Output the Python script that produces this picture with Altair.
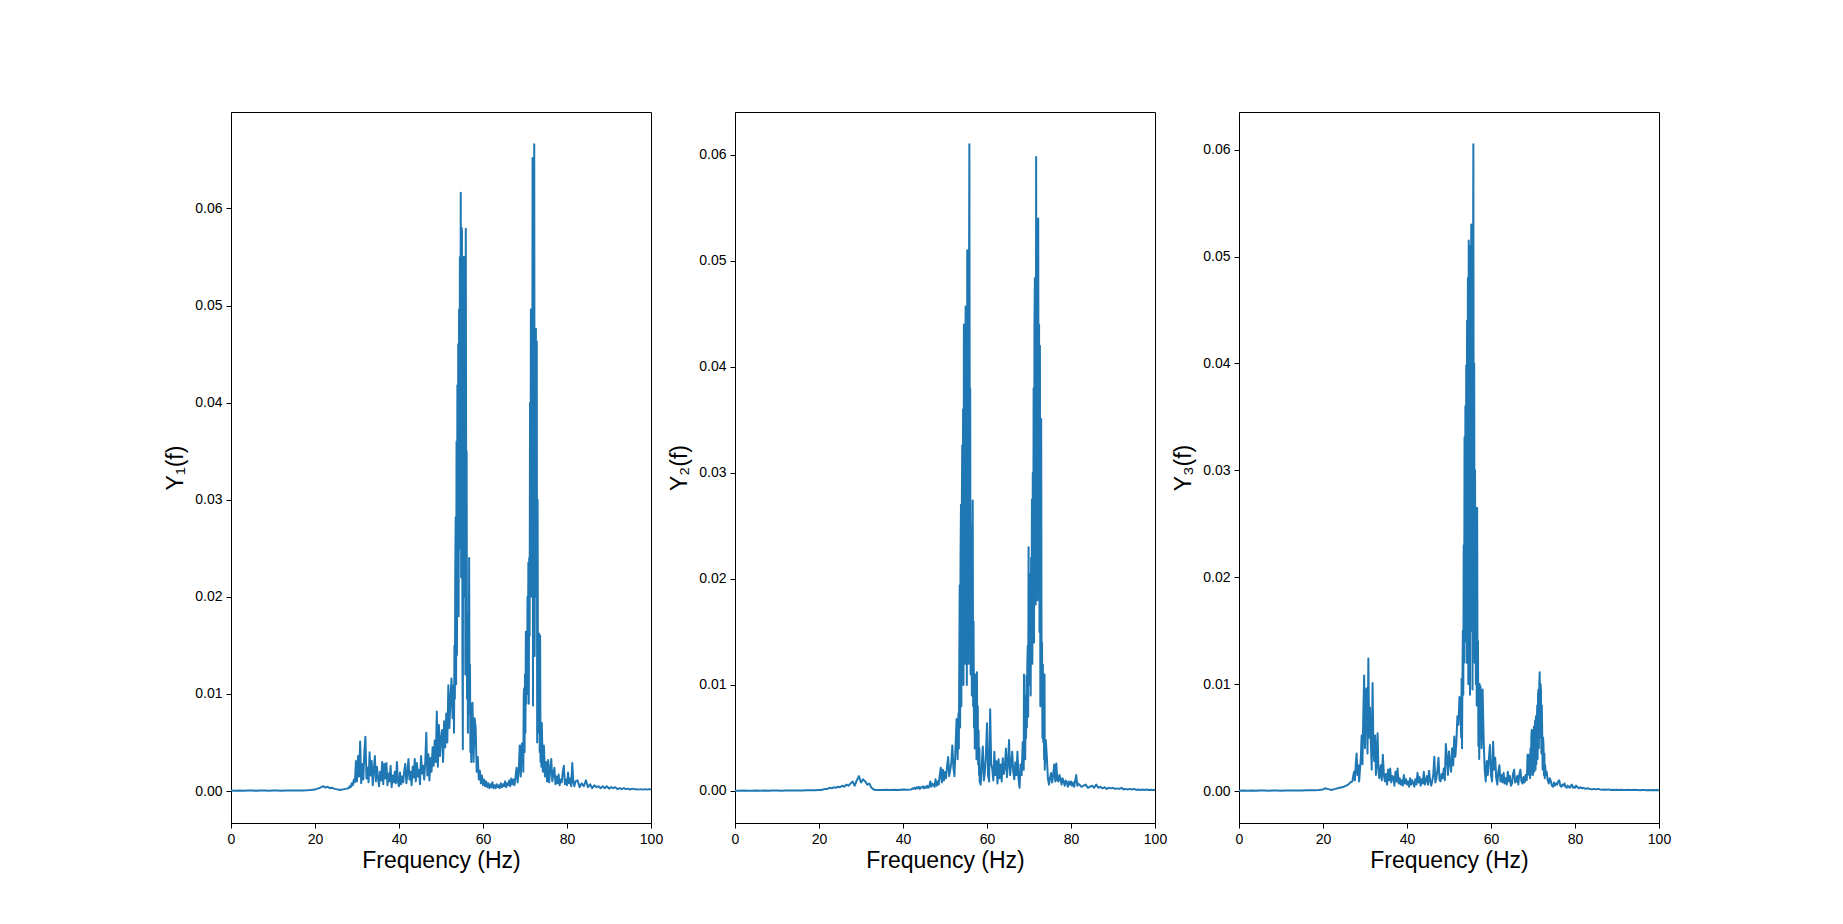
import altair as alt
import pandas as pd

# ---------------- data (values in units of 1e-3) ----------------
# Each panel is stored as segments: start frequency (Hz), grid step (Hz), values.

# Panel 1  -- Y1(f)
y1_a = [0.05, 0.04, 0.05, 0.04, 0.05, 0.05, 0.04, 0.05, 0.05, 0.04,
        0.05, 0.05, 0.04, 0.05, 0.06, 0.05, 0.06, 0.07, 0.08, 0.10]
y1_b = [0.15, 0.25, 0.30, 0.40, 0.50, 0.35, 0.45, 0.30, 0.35, 0.25,
        0.20, 0.15, 0.12, 0.15, 0.20, 0.25]
y1_c = [0.3, 0.5, 0.4, 0.8,  0.6, 1.2, 0.9, 3.1,  1.0, 3.6, 1.5, 5.1,
        0.8, 2.8, 1.2, 4.0,  5.6, 1.3, 2.4, 0.9,  4.0, 1.6, 3.1, 0.6,
        2.2, 3.6, 1.0, 2.5,  1.4, 0.5, 2.0, 1.1,  3.0, 0.7, 2.8, 1.3,
        2.9, 0.6, 1.8, 1.0,  2.6, 0.4, 1.6, 0.9,  2.0, 0.8, 3.0, 1.0,
        0.5, 1.9, 0.7, 1.5,  0.9, 2.1, 2.8, 0.8,  1.8, 3.3, 1.2, 2.0,
        0.6, 2.5, 1.4, 3.3,  1.0, 2.9, 1.5, 2.2,  0.7, 3.6, 1.8, 2.6,
        1.2, 3.0, 6.0, 1.6,  3.8, 1.1, 3.4, 2.0,  4.5, 2.6, 5.2, 3.0,
        8.2, 2.5, 6.8, 3.6,  5.4, 6.3, 3.0, 7.2,  4.5, 8.0, 5.0, 10.9,
        6.5, 9.5, 11.6, 7.5]
y1_d = [10.9, 6.0, 15.0, 9.5, 23.0, 28.2, 11.0, 36.0, 14.0, 41.8,
        20.0, 46.0, 18.0, 49.6, 25.0, 55.0, 30.0, 61.6, 22.0, 58.0,
        57.6, 14.0, 4.3, 55.0, 28.0, 55.0, 20.0, 54.0, 12.0, 57.9,
        30.0, 35.0, 9.5, 18.2, 6.0, 16.0, 9.0, 24.0, 8.0, 13.0,
        4.0, 9.0, 3.0, 8.5, 4.0]
y1_e = [9.1, 3.0, 7.5, 6.5,  2.0, 3.5, 1.2, 2.1,  0.8, 1.6, 0.6, 1.2,
        0.5, 1.0, 0.4, 0.8,  0.3, 0.7, 0.4, 0.9,  0.3, 0.6, 0.3, 0.7,
        0.4, 0.6, 0.3, 0.8,  0.4, 0.7, 0.5, 1.0,  0.4, 0.8, 0.6, 1.1,
        0.5, 1.3, 0.7, 1.2,  0.6, 1.5, 2.4, 0.9,  2.0, 4.7, 1.5, 4.9]
y1_f = [4.9, 2.0, 9.9, 10.6, 4.0, 12.0, 6.0, 16.4, 9.0, 16.0,
        10.0, 20.0, 12.0, 23.5, 9.0, 24.0, 16.0, 40.0, 20.0, 49.6,
        30.0, 49.0, 20.0, 65.2, 8.8, 65.0, 30.0, 66.6, 13.9, 47.0,
        25.0, 47.6, 20.0, 46.3, 5.0, 30.0, 8.0, 14.0, 6.0, 16.2,
        4.0, 16.0, 3.0, 7.0, 2.5]
y1_g = [7.0, 2.0, 4.7, 1.5,  3.0, 1.0, 3.2, 0.9,  2.2, 3.3, 1.0, 1.8,
        2.4, 0.7, 1.5, 0.8,  1.7, 0.6, 1.2, 0.9,  2.0, 2.6, 0.7, 1.2,
        0.6, 1.9, 0.8, 1.3,  0.5, 2.9, 0.9, 0.5]
y1_h = [1.0, 1.1, 0.4, 0.8, 0.5, 1.1, 0.4, 0.7, 0.3, 0.6,
        0.4, 0.5, 0.3, 0.5, 0.3, 0.5, 0.25, 0.4, 0.3, 0.4,
        0.2, 0.3, 0.2, 0.3, 0.2, 0.25, 0.15, 0.25, 0.2, 0.2,
        0.15, 0.2, 0.15, 0.2, 0.15, 0.2, 0.15]

# Panel 2  -- Y2(f)
y2_a = [0.03, 0.03, 0.04, 0.03, 0.03, 0.04, 0.03, 0.04, 0.03, 0.04,
        0.04, 0.03, 0.04, 0.05, 0.04, 0.05, 0.05, 0.06, 0.07, 0.08]
y2_b = [0.1, 0.1, 0.15, 0.2, 0.2, 0.3, 0.25, 0.35, 0.3, 0.4,
        0.35, 0.5, 0.4, 0.6, 0.5, 0.7, 0.9, 0.5, 1.0, 1.4,
        0.8, 1.1, 0.9, 0.6, 0.7, 0.3, 0.15, 0.1]
y2_c = [0.1, 0.1, 0.12, 0.1, 0.12, 0.1, 0.15, 0.12]
y2_d = [0.15, 0.25, 0.2, 0.3,  0.2, 0.35, 0.25, 0.4,  0.2, 0.35, 0.3, 0.45,
        0.25, 0.4, 0.3, 0.5,  0.3, 0.4, 0.9, 0.4,  0.7, 0.6, 0.4, 1.1,
        0.5, 0.9, 0.6, 1.5,  2.2, 0.8, 2.0, 1.0,  1.8, 1.2, 2.4, 3.2,
        1.4, 2.0, 2.7, 4.3,  2.2, 1.4, 4.0, 6.8,  3.0]
y2_e = [5.0, 7.3, 4.0, 12.0, 19.4, 6.0, 22.0, 27.0, 8.0,
        26.0, 32.6, 12.0, 36.0, 10.0, 44.0, 15.0, 43.0, 12.0, 45.7,
        18.0, 44.0, 10.0, 51.0, 20.0, 50.0, 12.0, 45.0, 61.0, 30.0,
        38.0, 11.0, 25.0, 17.9, 9.0, 22.0, 27.4, 8.0, 16.0, 6.0,
        10.9, 4.0, 11.0, 5.0, 9.0, 3.0, 11.2, 4.0, 8.0, 2.5,
        5.7, 1.5, 4.0]
y2_f = [0.9, 0.6, 2.5,  4.2, 1.0, 1.8, 3.5,  6.4, 1.5, 0.9, 7.7,
        2.5, 2.1, 1.0, 3.7,  1.5, 2.8, 0.7, 3.0,  1.2, 2.5, 0.9, 3.1,
        1.6, 2.2, 4.0, 1.3,  2.6, 4.8, 1.5, 2.5,  3.7, 1.8, 1.1, 2.7,
        1.5, 3.7, 1.2, 0.3,  2.5, 1.5, 4.6, 2.0]
y2_g = [11.0, 4.0,
        8.0, 3.0, 9.0, 5.0, 10.9, 6.0, 12.0, 13.7, 7.0, 23.0,
        10.0, 18.0, 12.0, 20.5, 9.0, 22.0, 14.0, 27.5, 12.0, 30.0,
        16.0, 38.0, 14.0, 44.0, 48.4, 20.0, 17.6, 59.8, 25.0, 50.0,
        18.0, 45.0, 54.0, 20.0, 44.0, 15.0, 42.0, 8.0, 30.0, 35.1,
        10.0, 14.0, 5.0, 11.9, 4.6, 9.0, 3.0, 11.0]
y2_h = [2.0,  4.8, 3.2, 1.2, 0.6,  1.2, 1.7, 0.8, 1.5,  2.5, 0.9, 2.6, 1.0,
        0.9, 1.5, 1.1, 0.6,  1.2, 0.9, 0.5, 1.0,  0.8, 0.4, 0.9, 0.6,
        0.9, 0.5, 0.8, 0.4,  1.0, 1.5, 0.5, 0.7]
y2_i = [0.6, 0.4, 0.5, 0.6, 0.3, 0.4, 0.5, 0.3, 0.6, 0.3,
        0.4, 0.25, 0.35, 0.2, 0.3, 0.25, 0.3, 0.2, 0.25, 0.2,
        0.3, 0.15, 0.2, 0.15, 0.2, 0.15, 0.2, 0.1, 0.15, 0.1,
        0.15, 0.1, 0.15, 0.1, 0.12, 0.1, 0.1]

# Panel 3  -- Y3(f)
y3_a = [0.03, 0.04, 0.03, 0.04, 0.03, 0.04, 0.04, 0.03, 0.04, 0.04,
        0.03, 0.04, 0.04, 0.05, 0.04, 0.05, 0.06, 0.06, 0.08, 0.10]
y3_b = [0.15, 0.25, 0.2, 0.15, 0.1, 0.15, 0.2, 0.25, 0.3, 0.35, 0.4, 0.5, 0.6, 0.8]
y3_c = [0.9, 1.4, 1.8, 1.0, 2.5,  3.5, 1.5, 2.4, 0.9, 2.0,
        3.0, 5.2, 2.5, 7.3, 10.8,  4.0, 9.4, 9.6, 3.5, 12.4,
        5.0, 7.8, 4.6, 2.0, 10.1,  4.0, 2.8, 5.2, 1.5, 3.0,
        5.4, 2.0, 1.2]
y3_d = [2.4,  1.0, 3.4, 1.5, 0.9,  1.6, 0.6, 2.0, 1.0,  2.1, 0.8, 1.4, 1.3,
        0.5, 1.8, 0.9, 2.1,  0.7, 1.2, 0.6, 1.0,  0.5, 1.5, 0.7, 1.1,
        0.6, 0.9, 0.4, 1.2,  0.6, 1.0, 0.7, 0.4,  1.1, 0.6, 1.7, 0.8,
        1.3, 0.5, 1.1, 0.7,  1.8, 0.6, 1.0, 1.4,  0.6, 1.9, 1.0, 0.5,
        0.9, 1.5, 3.2, 0.8,  1.2, 2.0, 3.1, 1.0,  0.9, 1.6, 1.2, 2.1,
        1.0, 4.4, 3.1, 1.5,  3.7, 2.6, 1.8, 4.0,  2.4, 5.1, 3.2, 4.5,
        7.0, 6.2, 8.8, 7.6]
y3_e = [5.0,
        10.5, 4.0, 10.4, 15.0, 9.0, 23.0, 12.0, 33.1, 14.0, 36.0,
        18.0, 39.8, 12.0, 44.0, 20.0, 48.0, 10.0, 51.5, 25.0, 51.0,
        9.0, 45.0, 30.0, 53.0, 15.0, 50.0, 9.5, 45.0, 60.5, 20.0,
        40.0, 12.0, 30.0, 18.3, 10.0, 22.0, 8.0, 26.5, 9.0, 14.0,
        4.2, 9.0, 3.0, 10.0, 6.0]
y3_f = [9.8, 4.0,  9.5, 4.8, 2.0, 0.9,  2.8, 1.5, 3.0, 4.3,  1.5, 0.9, 4.6, 2.0,
        3.1, 1.2, 0.6, 1.8,  2.4, 0.9, 1.5, 0.8,  1.7, 0.7, 1.2, 0.6,
        1.8, 0.9, 1.4, 0.5,  0.7, 1.6, 2.0, 0.8,  0.9, 1.4, 0.6, 1.6,
        2.0, 0.9, 0.7, 1.3,  0.8, 1.5, 1.0]
y3_g = [2.0, 3.4, 1.5, 3.4,
        1.8, 2.1, 3.0, 1.2, 4.0, 1.5, 5.0, 5.7, 2.0, 4.5,
        1.5, 4.6, 6.0, 1.8, 5.5, 6.6, 2.0, 7.0, 2.5, 5.4,
        8.0, 3.0, 9.0, 9.5, 4.0, 10.0, 11.1, 5.0, 10.0, 9.4,
        3.5, 8.0, 5.2, 2.0, 5.0, 4.3, 1.5, 3.5, 1.2, 2.4,
        1.5]
y3_h = [1.8, 1.0, 0.7,  1.2, 0.9, 0.5, 0.4,  0.8, 0.5, 0.7, 0.6,  0.9, 1.0, 0.5, 0.4,
        0.6, 0.5, 0.7, 0.4,  0.3, 0.5, 0.4, 0.3,  0.5, 0.6, 0.3, 0.4,
        0.3, 0.5, 0.4, 0.3,  0.25, 0.35, 0.3, 0.25]
y3_i = [0.3, 0.2, 0.25, 0.2, 0.15, 0.2, 0.15, 0.2, 0.15, 0.12,
        0.15, 0.12, 0.15, 0.1, 0.12, 0.1, 0.12, 0.1, 0.12, 0.1,
        0.1, 0.12, 0.1, 0.1, 0.12, 0.1, 0.1, 0.08, 0.1, 0.1,
        0.08, 0.1, 0.08, 0.1, 0.08, 0.1, 0.08]

panel1_segments = [(0.0, 1.0, y1_a), (20.0, 0.5, y1_b), (28.0, 0.25, y1_c),
                   (53.0, 0.1, y1_d), (57.5, 0.25, y1_e), (69.5, 0.1, y1_f),
                   (74.0, 0.25, y1_g), (82.0, 0.5, y1_h)]
panel2_segments = [(0.0, 1.0, y2_a), (20.0, 0.5, y2_b), (34.0, 1.0, y2_c),
                   (42.0, 0.25, y2_d), (53.1, 0.1, y2_e), (58.25, 0.25, y2_f),
                   (68.8, 0.1, y2_g), (73.75, 0.25, y2_h), (82.0, 0.5, y2_i)]
panel3_segments = [(0.0, 1.0, y3_a), (20.0, 0.5, y3_b), (27.0, 0.2, y3_c),
                   (33.75, 0.25, y3_d), (52.9, 0.1, y3_e), (57.5, 0.25, y3_f),
                   (68.6, 0.1, y3_g), (73.25, 0.25, y3_h), (82.0, 0.5, y3_i)]

x_ticks = [0, 20, 40, 60, 80, 100]
y_ticks = [0.0, 0.01, 0.02, 0.03, 0.04, 0.05, 0.06]
titles = ["Y\u2081(f)", "Y\u2082(f)", "Y\u2083(f)"]

PW, PH = 420, 711
FONT = "Liberation Sans"


def make_panel(segments, ytitle):
    freqs, vals = [], []
    for start, step, values in segments:
        for i, val in enumerate(values):
            freqs.append(round(start + i * step, 4))
            vals.append(val / 1000.0)
    df = pd.DataFrame({"f": freqs, "v": vals})
    vmax, vmin = max(vals), min(vals)
    r = vmax - vmin
    dom = [vmin - 0.05 * r, vmax + 0.05 * r]
    return (
        alt.Chart(df)
        .mark_line(color="#1f77b4", strokeWidth=2, strokeJoin="round", clip=True)
        .encode(
            x=alt.X("f:Q",
                    scale=alt.Scale(domain=[0, 100], nice=False, zero=False),
                    axis=alt.Axis(values=x_ticks, format="d", title="Frequency (Hz)",
                                  labelFlush=False,
                                  titleX=PW / 2, titleY=37, titleAlign="center",
                                  titleBaseline="middle")),
            y=alt.Y("v:Q",
                    scale=alt.Scale(domain=dom, nice=False, zero=False),
                    axis=alt.Axis(values=y_ticks, format=".2f", title=ytitle,
                                  labelFlush=False,
                                  titleX=-56, titleY=PH / 2, titleAngle=270,
                                  titleAlign="center", titleBaseline="middle")),
        )
        .properties(width=PW, height=PH)
    )


charts = [make_panel(s, t) for s, t in zip(
    [panel1_segments, panel2_segments, panel3_segments], titles)]

chart = (
    alt.hconcat(*charts, spacing=84, bounds="flush")
    .properties(padding={"left": 155, "top": 103, "right": 20, "bottom": 20},
                background="white")
    .configure_axis(labelFont=FONT, labelFontSize=14, labelColor="black",
                    titleFont=FONT, titleFontSize=23, titleFontWeight="normal",
                    titleColor="black", tickColor="black", tickSize=5, tickWidth=1,
                    domainColor="black", domainWidth=1, labelPadding=4, grid=False)
    .configure_view(stroke="black", strokeWidth=1)
)

chart.save("out.html", embed_options={"renderer": "svg", "actions": False})
